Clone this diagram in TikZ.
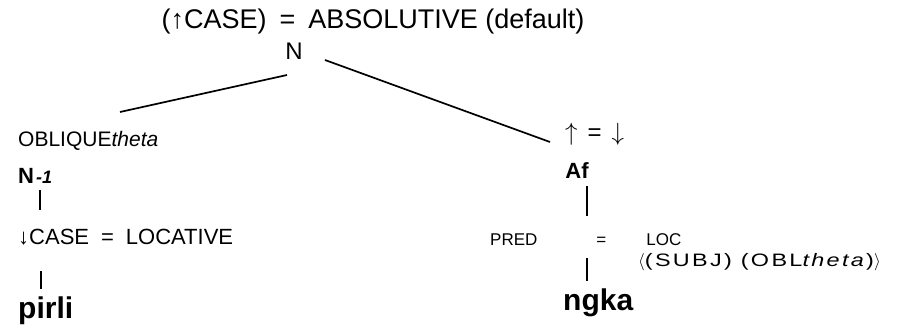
\documentclass[tikz,border=0pt]{standalone}
\usepackage{fontspec}
\setmainfont{Liberation Sans}
\usetikzlibrary{positioning, calc}
\tikzstyle{feat} = [inner sep=0pt, font=\fontsize{21}{24}\selectfont]
\tikzstyle{cat} = [inner sep=0pt, font=\fontsize{22}{25}\selectfont\bfseries]
\tikzstyle{word} = [inner sep=0pt, anchor=base west, font=\fontsize{30}{32}\selectfont\bfseries]
\tikzstyle{branch} = [line width=1.7pt]
\tikzstyle{bar} = [line width=1.6pt]

\begin{document}
\begin{tikzpicture}[x=1pt, y=-1pt]
    \useasboundingbox (0,0) rectangle (903,332);
    % Root
    \node[inner sep=0pt, font=\fontsize{27}{30}\selectfont] (topcase) at (373,22) {(↑CASE)\hspace{13pt}=\hspace{13pt}ABSOLUTIVE (default)};
    \node[inner sep=0pt, font=\fontsize{24}{26}\selectfont] (root) at (294,51) {N};

    % Left daughter
    \node[feat, anchor=west] (obl) at (18,141) {OBLIQUE\textit{theta}};
    \node[cat, anchor=west] (nminus) at (18,176) {N\hspace{2pt}\textit{\fontsize{18}{20}\selectfont -1}};
    \node[feat, anchor=west, font=\fontsize{22}{24}\selectfont] (loc) at (18,237) {↓CASE\hspace{12pt}=\hspace{12pt}LOCATIVE};
    \node[word] (pirli) at (18,318) {pirli};

    % Right daughter
    \node[inner sep=0pt, anchor=west, font=\fontsize{24}{26}\selectfont] (eq) at (565,134) {$\uparrow$\hspace{10pt}=\hspace{10pt}$\downarrow$};
    \node[cat] (af) at (577,171) {Af};
    \node[inner sep=0pt, anchor=west, font=\fontsize{17}{19}\selectfont] (pred) at (490,240) {PRED\hspace{59pt}=\hspace{40pt}LOC};
    \node[inner sep=0pt, anchor=west, font=\fontsize{18}{20}\selectfont\addfontfeature{FakeStretch=1.3, LetterSpace=13}] (args) at (638,262) {$\langle$(SUBJ) (OBL\textit{theta})$\rangle$};
    \node[word] (ngka) at (563,310) {ngka};

    % Branches
    \draw[branch] ($(root.center)+(-7,24)$) -- ($(obl.west)+(102,-29)$);
    \draw[branch] ($(root.center)+(31,9)$) -- ($(eq.west)+(-15,8)$);
    \draw[bar, shorten <=6pt, shorten >=19pt] ([xshift=22pt]nminus.south west) -- ([xshift=22pt]loc.north west);
    \draw[bar, shorten <=26pt, shorten >=7pt] ([xshift=23pt]loc.south west) -- ([xshift=23pt]pirli.north west);
    \draw[bar, shorten <=7pt, shorten >=18pt] ($(af.south)+(10,0)$) -- ($(af.south |- pred.north)+(10,0)$);
    \draw[bar, shorten <=12pt, shorten >=7pt] ($(af.south |- pred.south)+(10,0)$) -- ($(af.south |- ngka.north)+(10,0)$);
\end{tikzpicture}
\end{document}
